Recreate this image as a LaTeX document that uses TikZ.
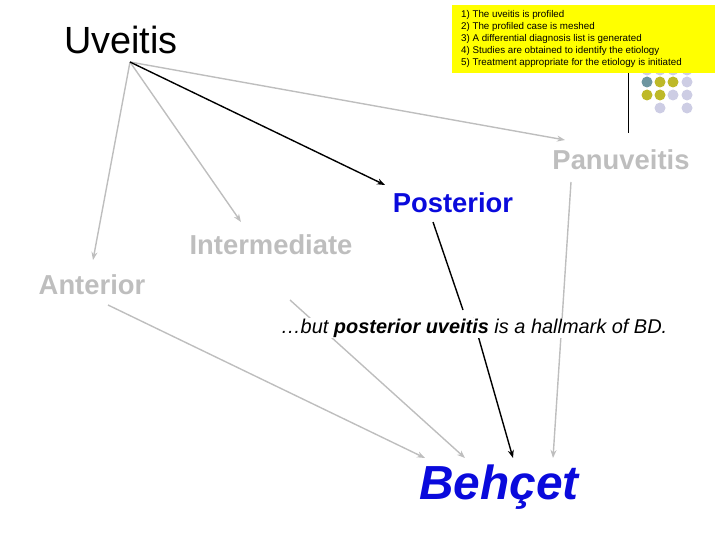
\documentclass[tikz,border=0pt]{standalone}
\usepackage{fontspec}
\setmainfont{Liberation Sans}
\usetikzlibrary{positioning, calc, arrows.meta}
\definecolor{lightgrey}{RGB}{190,190,190}
\definecolor{deepblue}{RGB}{10,10,220}
\definecolor{boxyellow}{RGB}{255,255,0}
\definecolor{dotteal}{RGB}{110,150,160}
\definecolor{dotolive}{RGB}{190,185,40}
\definecolor{dotlav}{RGB}{205,205,228}

\begin{document}
\begin{tikzpicture}[x=1bp,y=-1bp,
    greyarrow/.style={draw=lightgrey, line width=1.4bp, -{Stealth[length=8bp,width=6bp]}},
    blackarrow/.style={draw=black, line width=1.4bp, -{Stealth[length=8bp,width=6bp]}},
    typetext/.style={inner sep=1bp, font=\fontsize{27.5}{30}\selectfont\bfseries}]
      \useasboundingbox (0,0) rectangle (720,540);

      % dots and line at the top right
      \draw[black, line width=0.8bp] (628,70) -- (628,133);
      \foreach \cx/\cy/\cc in {647/82/dotteal, 660/82/dotolive, 673/82/dotolive, 687/82/dotlav,
                               647/95/dotolive, 660/95/dotolive, 673/95/dotlav, 687/95/dotlav,
                               660/108/dotlav, 687/108/dotlav, 647/70/dotlav, 660/70/dotlav, 673/70/dotlav, 687/70/dotlav}
        \fill[\cc] (\cx,\cy) circle (5.5bp);

      \node[fill=boxyellow, minimum width=263bp, minimum height=68bp, inner sep=0pt] (steps) at (583.5,39) {};
      \node[align=left, anchor=west, font=\fontsize{9.8}{12}\selectfont, inner sep=0pt] (steplist) at (461,39)
        {1) The uveitis is profiled\\2) The profiled case is meshed\\3) A differential diagnosis list is generated\\4) Studies are obtained to identify the etiology\\5) Treatment appropriate for the etiology is initiated};

      \node[font=\fontsize{38}{40}\selectfont, inner sep=1bp] (uveitis) at (121,40) {Uveitis};
      \node[typetext, text=lightgrey] (panuveitis) at (621,160) {Panuveitis};
      \node[typetext, text=deepblue] (posterior) at (453,203) {Posterior};
      \node[typetext, text=lightgrey] (intermediate) at (271,245) {Intermediate};
      \node[typetext, text=lightgrey] (anterior) at (92,285) {Anterior};
      \node[font=\fontsize{48}{52}\selectfont\bfseries\itshape, text=deepblue, inner sep=1bp] (behcet) at (499,487) {Behçet};

      \coordinate (root) at (130,62);
      \draw[greyarrow] (root) -- (93,260);
      \draw[greyarrow] (root) -- (241,222);
      \draw[greyarrow] (root) -- (565,140);
      \draw[blackarrow] (root) -- (385,185);

      \draw[greyarrow] (108,305) -- (425,458);
      \draw[greyarrow] (290,300) -- (465,458);
      \draw[black, line width=1.4bp] (433,222) -- (463,310);
      \draw[blackarrow] (473,318) -- (513,458);
      \draw[greyarrow] (571,182) -- (553,458);

      \node[fill=white, inner sep=1bp, font=\fontsize{20}{22}\selectfont\itshape] (hallmark) at (474,328)
        {\dots but \textbf{posterior uveitis} is a hallmark of BD.};
\end{tikzpicture}
\end{document}
